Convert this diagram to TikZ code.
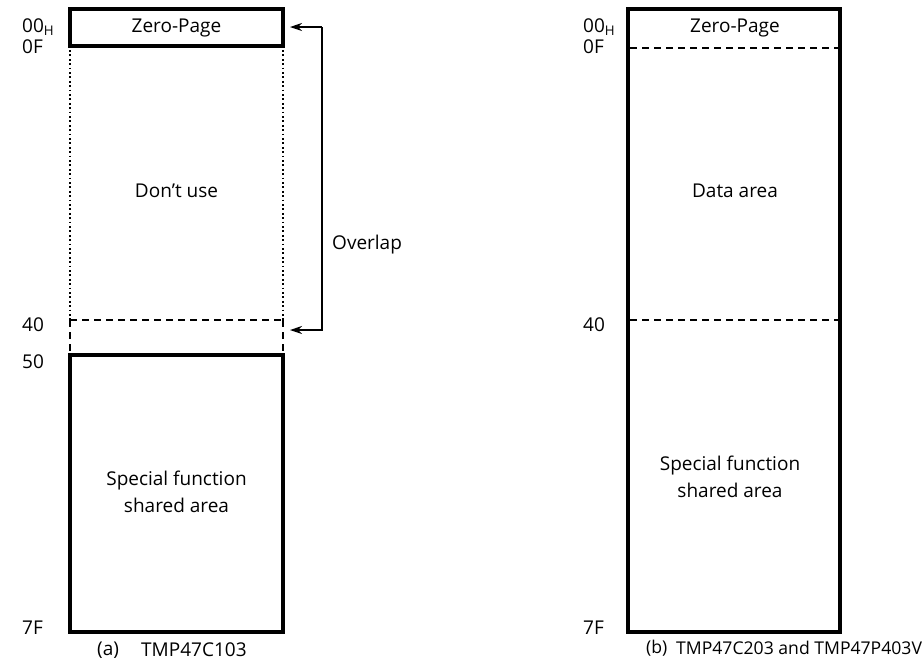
\documentclass[tikz,border=0pt]{standalone}
\usepackage{fontspec}
\setmainfont{Open Sans}
\usetikzlibrary{arrows.meta}
\begin{document}
\begin{tikzpicture}[x=1pt,y=-1pt,
  thickbox/.style={draw,line width=4pt},
  dashline/.style={draw,line width=1.8pt,dash pattern=on 7pt off 5pt},
  dotline/.style={draw,line width=1.8pt,dash pattern=on 1.8pt off 2.6pt},
  lbl/.style={font=\fontsize{19}{27}\selectfont,inner sep=0pt},
  caplbl/.style={font=\fontsize{19}{22}\selectfont,inner sep=0pt,anchor=west},
  caplblb/.style={font=\fontsize{17.6}{22}\selectfont,inner sep=0pt,anchor=west},
  addr/.style={lbl,anchor=west},
  arr/.style={draw,line width=1.3pt,-{Stealth[length=12pt,width=8pt]}}]
\useasboundingbox (0,0) rectangle (924,665);
% ---------- (a)
\coordinate (aTL) at (70,9);
\coordinate (aZB) at (283,46);
\draw[thickbox] (aTL) rectangle (aZB);
\node[lbl] (az) at (176.5,28) {Zero-Page};
\draw[dotline] (70,50) -- (70,320);
\draw[dotline] (283,50) -- (283,320);
\draw[dashline] (70,320) -- (283,320);
\draw[dashline] (70,320) -- (70,355);
\draw[dashline] (283,320) -- (283,355);
\node[lbl] (adu) at (176.5,191) {Don’t use};
\draw[thickbox] (70,355) rectangle (283,632);
\node[lbl,align=center] (asf) at (176.5,492) {Special function\\shared area};
\node[addr] (a00) at (22,27) {00\textsubscript{H}};
\node[addr] (a0F) at (22,47) {0F};
\node[addr] (a40) at (22,325) {40};
\node[addr] (a50) at (22,362) {50};
\node[addr] (a7F) at (22,628) {7F};
\node[caplbl] (acapl) at (97,650) {(a)};
\node[caplbl] (acap) at (141,650) {TMP47C103};
% overlap arrow
\coordinate (ovT) at (322,27);
\coordinate (ovB) at (322,330);
\coordinate (ovTe) at (290,27);
\coordinate (ovBe) at (290,330);
\draw[arr] (ovT) -- (ovTe);
\draw[arr] (ovT) -- (ovB) -- (ovBe);
\node[lbl,anchor=west] (ovl) at (332,245) {Overlap};
% ---------- (b)
\draw[thickbox] (628,9) rectangle (840,632);
\draw[dashline] (630,48) -- (838,48);
\draw[dashline] (630,320) -- (838,320);
\node[lbl] (bz) at (735,28) {Zero-Page};
\node[lbl] (bda) at (735,191) {Data area};
\node[lbl,align=center] (bsf) at (730,477) {Special function\\shared area};
\node[addr] (b00) at (583,27) {00\textsubscript{H}};
\node[addr] (b0F) at (583,47) {0F};
\node[addr] (b40) at (583,325) {40};
\node[addr] (b7F) at (583,628) {7F};
\node[caplblb] (bcapl) at (646,648) {(b)};
\node[caplblb] (bcap) at (676,648) {TMP47C203 and TMP47P403V};
\end{tikzpicture}
\end{document}
